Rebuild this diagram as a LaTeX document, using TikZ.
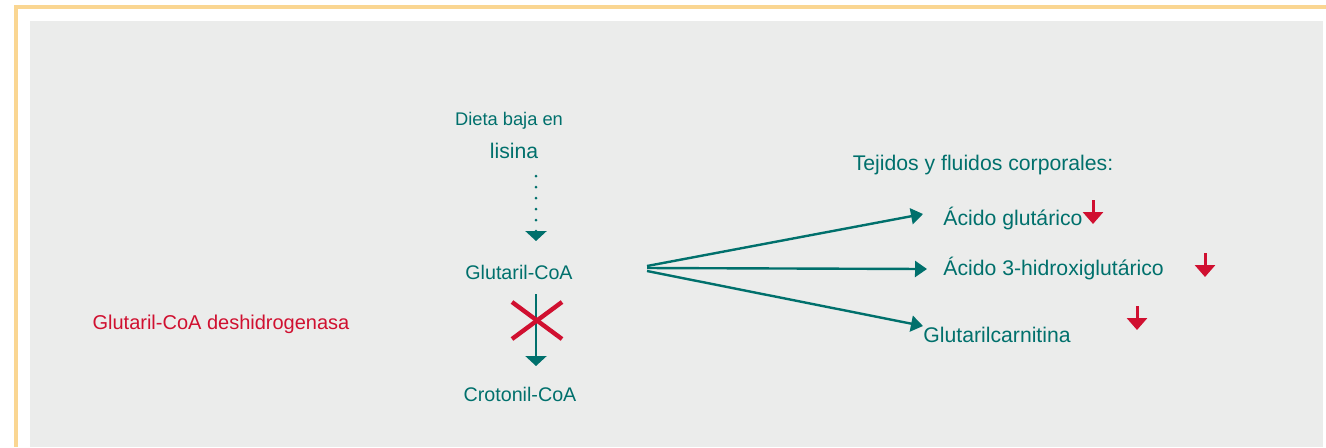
\documentclass[tikz,border=0pt]{standalone}
\usepackage{fontspec}
\setmainfont{Liberation Sans}
\usetikzlibrary{arrows.meta, positioning}
\definecolor{myteal}{RGB}{0,112,108}
\definecolor{myred}{RGB}{208,16,48}
\definecolor{mybg}{RGB}{235,236,235}
\definecolor{myframe}{RGB}{250,214,146}
\tikzset{
  txt/.style={text=myteal, inner sep=0pt, font=\fontsize{10.6}{12}\selectfont},
  midtxt/.style={text=myteal, inner sep=0pt, font=\fontsize{9.85}{12}\selectfont},
  smalltxt/.style={text=myteal, inner sep=0pt, font=\fontsize{9.15}{11}\selectfont},
  redtxt/.style={text=myred, inner sep=0pt, font=\fontsize{10}{12}\selectfont},
  arrow/.style={-{Triangle[length=6pt, width=8pt]}, line width=1.2pt, color=myteal},
  downarrow/.style={-{Triangle[length=5pt, width=10.5pt]}, line width=1.2pt, color=myteal},
  dotarrow/.style={-{Triangle[length=5pt, width=10.5pt]}, line width=1.5pt, color=myteal,
    line cap=round, dash pattern=on 0pt off 5.5pt},
  redarrow/.style={-{Triangle[length=6pt, width=10pt]}, line width=1.5pt, color=myred},
  cross/.style={line width=2.2pt, color=myred}
}

\begin{document}
\begin{tikzpicture}[x=0.5pt, y=-0.5pt]
  \useasboundingbox (0,0) rectangle (1326,447);
  % frame and background
  \fill[mybg] (30,21) rectangle (1323,447);
  \draw[myframe, line width=1.6pt] (16,447) -- (16,7) -- (1326,7);

  % left column
  \node[smalltxt] (diet)   at (509,121) {Dieta baja en};
  \node[txt]      (lisina) at (514,151) {lisina};
  \node[midtxt]   (glut)   at (519,272) {Glutaril-CoA};
  \node[midtxt]   (crot)   at (520,394) {Crotonil-CoA};
  \node[redtxt]   (enzyme) at (221,324) {Glutaril-CoA deshidrogenasa};

  \coordinate (dietend) at (536,176);
  \coordinate (glutin)  at (536,241);
  \coordinate (glutout) at (536,294);
  \coordinate (crotin)  at (536,366);
  \draw[dotarrow] (dietend) -- (glutin);
  \draw[downarrow] (glutout) -- (crotin);
  % blocked step
  \draw[cross] (512,302) -- (562,339);
  \draw[cross] (512,339) -- (562,302);

  % right column
  \node[txt] (tejidos) at (983,165) {Tejidos y fluidos corporales:};
  \node[txt, anchor=west] (acglut)   at (943,218) {Ácido glutárico};
  \node[txt, anchor=west] (achidrox) at (943,268) {Ácido 3-hidroxiglutárico};
  \node[txt, anchor=west] (glutcarn) at (923,335) {Glutarilcarnitina};

  \coordinate (fork1) at (647,266);
  \coordinate (fork2) at (647,268);
  \coordinate (fork3) at (647,271);
  \coordinate (toglut) at (923,214);
  \coordinate (tohidr) at (927,269);
  \coordinate (tocarn) at (923,326);
  \draw[arrow] (fork1) -- (toglut);
  \draw[arrow] (fork2) -- (tohidr);
  \draw[arrow] (fork3) -- (tocarn);

  % lowered levels
  \draw[redarrow] (1093,200) -- (1093,224);
  \draw[redarrow] (1205,253) -- (1205,277);
  \draw[redarrow] (1137,306) -- (1137,330);
\end{tikzpicture}
\end{document}
